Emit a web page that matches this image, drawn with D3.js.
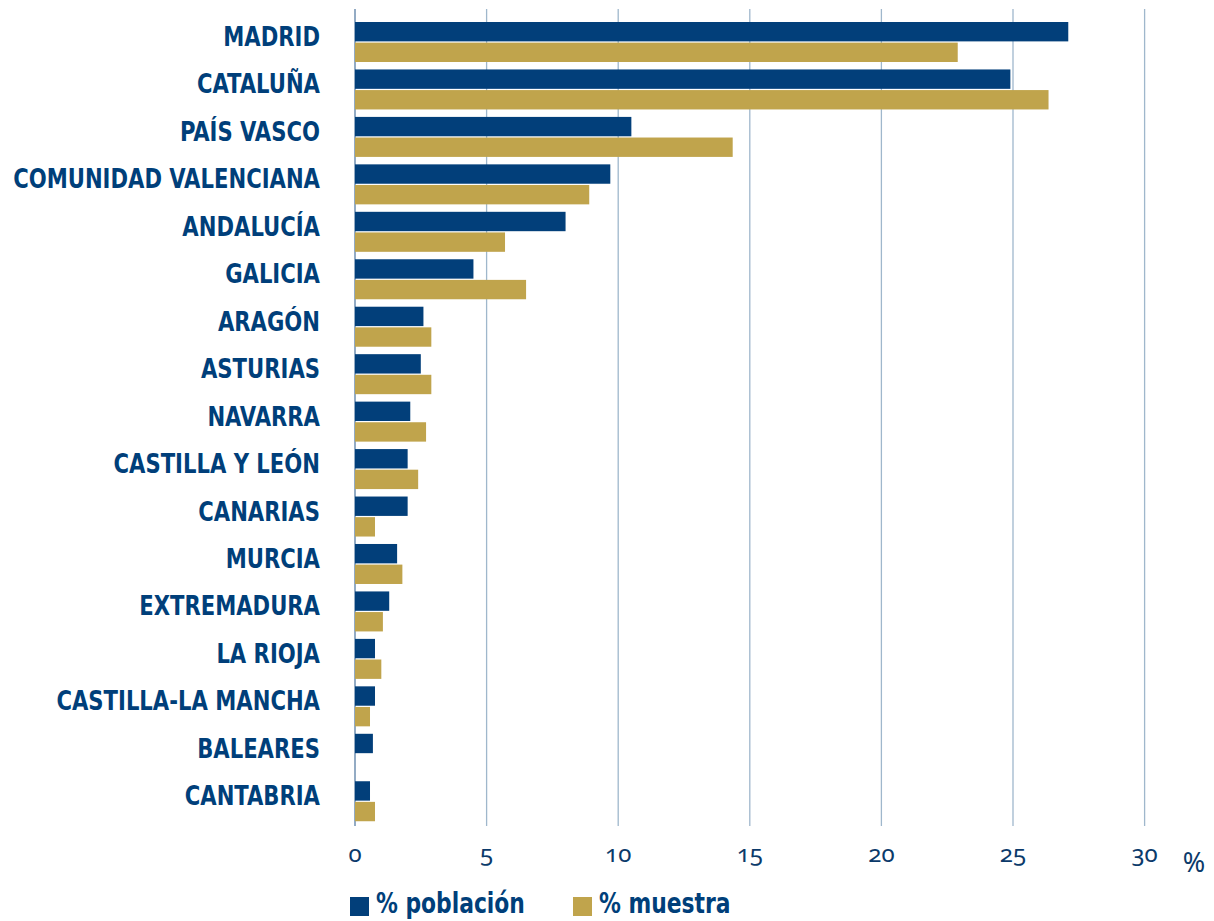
<!DOCTYPE html>
<html>
<head>
<meta charset="utf-8">
<script src="https://cdn.jsdelivr.net/npm/d3@7"></script>
<style>
  body { margin: 0; background: #fff; }
  .cat { font-family: "DejaVu Sans Condensed", "DejaVu Sans", sans-serif; font-weight: bold; font-size: 27px; fill: #003f7a; }
  .tick-lbl { font-family: "Noto Sans", sans-serif; font-weight: 400; font-size: 24px; fill: #0b3a6a; font-feature-settings: "onum" 1; font-variant-numeric: oldstyle-nums; }
  .legend { font-family: "DejaVu Sans Condensed", "DejaVu Sans", sans-serif; font-weight: bold; font-size: 28px; fill: #003f7a; }
</style>
</head>
<body>
<div id="vis"></div>
<script>
var categories = ["MADRID", "CATALUÑA", "PAÍS VASCO", "COMUNIDAD VALENCIANA", "ANDALUCÍA",
  "GALICIA", "ARAGÓN", "ASTURIAS", "NAVARRA", "CASTILLA Y LEÓN", "CANARIAS", "MURCIA",
  "EXTREMADURA", "LA RIOJA", "CASTILLA-LA MANCHA", "BALEARES", "CANTABRIA"];
var poblacion = [27.1, 24.9, 10.5, 9.7, 8.0, 4.5, 2.6, 2.5, 2.1, 2.0, 2.0, 1.6, 1.3, 0.76, 0.76, 0.68, 0.57];
var muestra   = [22.9, 26.35, 14.35, 8.9, 5.7, 6.5, 2.9, 2.9, 2.7, 2.4, 0.76, 1.8, 1.06, 1.0, 0.57, 0, 0.76];
var seriesNames = ["% población", "% muestra"];
var xTicks = [0, 5, 10, 15, 20, 25, 30];

var width = 1214, height = 921;
var blue = "#023f7a", gold = "#c0a44c";

var svg = d3.select("#vis").append("svg")
  .attr("width", width).attr("height", height);

var x = d3.scaleLinear().domain([0, 30]).range([355, 1144.6]);
var y = d3.scaleBand().domain(categories).range([18, 824.7]);
var ySub = d3.scaleBand().domain(seriesNames).range([4, 44]).paddingInner(0.06);

// grid lines
svg.append("g").selectAll("line")
  .data(xTicks).enter().append("line")
  .attr("x1", function (d) { return x(d); })
  .attr("x2", function (d) { return x(d); })
  .attr("y1", 9).attr("y2", 826)
  .attr("stroke", function (d) { return d === 0 ? "#6f8fb1" : "#9fb7cc"; })
  .attr("stroke-width", function (d) { return d === 0 ? 1.5 : 1.3; });

var rows = categories.map(function (c, i) {
  return { name: c, vals: [poblacion[i], muestra[i]] };
});

var grp = svg.append("g").selectAll("g")
  .data(rows).enter().append("g")
  .attr("transform", function (d) { return "translate(0," + y(d.name) + ")"; });

grp.selectAll("rect")
  .data(function (d) { return d.vals.map(function (v, j) { return { s: seriesNames[j], v: v }; }); })
  .enter().append("rect")
  .attr("x", x(0))
  .attr("y", function (d) { return ySub(d.s); })
  .attr("width", function (d) { return x(d.v) - x(0); })
  .attr("height", ySub.bandwidth())
  .attr("fill", function (d) { return d.s === seriesNames[0] ? blue : gold; });

// category labels, squeezed to the narrow face of the original
var catG = svg.append("g").selectAll("g")
  .data(categories).enter().append("g");
var catT = catG.append("text")
  .attr("class", "cat")
  .attr("text-anchor", "end")
  .text(function (d) { return d; });
var widest = catT.filter(function (d) { return d === "COMUNIDAD VALENCIANA"; }).node().getComputedTextLength();
var k = 307 / widest;
catG.attr("transform", function (d) { return "translate(320," + (y(d) + 28) + ") scale(" + k + ",1)"; });

// x tick labels
svg.append("g").selectAll("text")
  .data(xTicks).enter().append("text")
  .attr("class", "tick-lbl")
  .attr("x", function (d) { return x(d); })
  .attr("y", 862)
  .attr("text-anchor", "middle")
  .text(function (d) { return d; });

svg.append("text")
  .attr("class", "tick-lbl")
  .style("font-size", "27px")
  .attr("x", 1194).attr("y", 872)
  .attr("text-anchor", "middle")
  .text("%");

// legend
var legX = [350, 573];
var leg = svg.append("g").selectAll("g")
  .data(seriesNames).enter().append("g")
  .attr("transform", function (d, i) { return "translate(" + legX[i] + ",897)"; });
leg.append("rect")
  .attr("width", 19).attr("height", 19)
  .attr("fill", function (d, i) { return i === 0 ? blue : gold; });
var legT = leg.append("text")
  .attr("class", "legend")
  .text(function (d) { return d; });
var kl = 149 / legT.filter(function (d, i) { return i === 0; }).node().getComputedTextLength();
legT.attr("transform", "translate(26,16) scale(" + kl + ",1)");
</script>
</body>
</html>
